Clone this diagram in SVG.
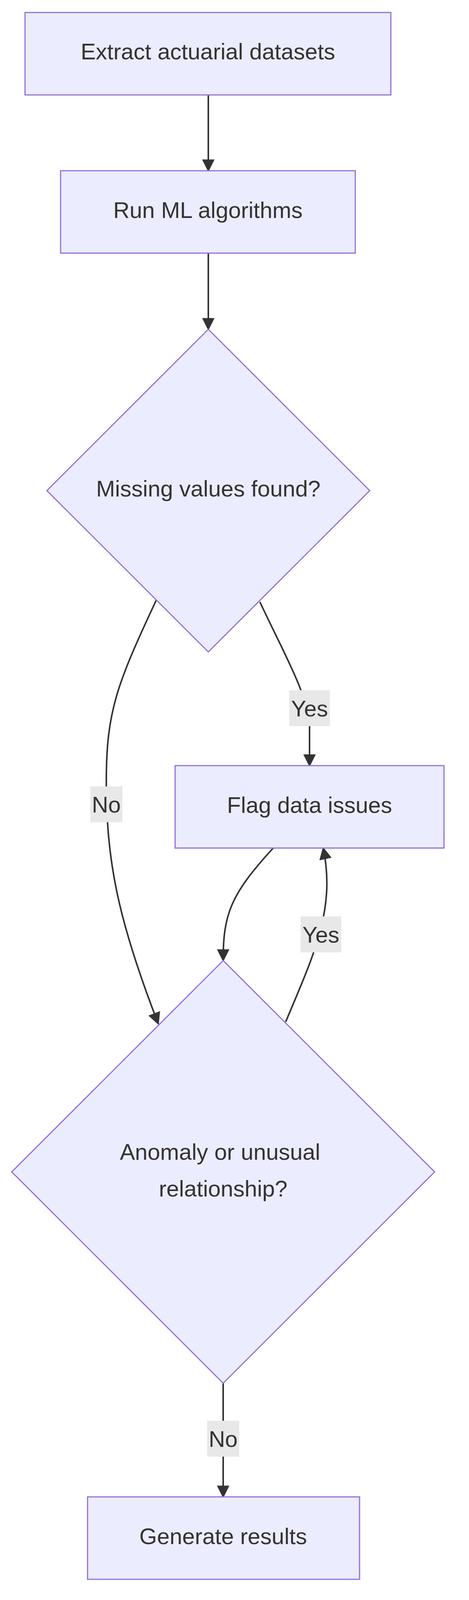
<svg xmlns="http://www.w3.org/2000/svg" width="1200" height="4180" viewBox="0 0 1200 4180">
<style>
.n{fill:#ECECFF;stroke:#9370DB;stroke-width:3}
.t{font-family:"Liberation Sans",Arial,sans-serif;font-size:58px;fill:#333;text-anchor:middle;dominant-baseline:central}
.e{fill:none;stroke:#333;stroke-width:4}
.lb{fill:#e8e8e8}
</style>
<defs><marker id="a" viewBox="0 0 10 10" refX="9" refY="5" markerWidth="8" markerHeight="8" markerUnits="userSpaceOnUse" orient="auto"><path d="M0,0L10,5L0,10z" fill="#333"/></marker>
<marker id="ah" viewBox="0 0 10 10" refX="9" refY="5" markerWidth="32" markerHeight="32" markerUnits="userSpaceOnUse" orient="auto"><path d="M0,0L10,5L0,10z" fill="#333"/></marker></defs>
<rect width="1200" height="4180" fill="#fff"/>
<g id="edges">
<path class="e" d="M533,243V437" marker-end="url(#ah)"/>
<path class="e" d="M533,648V843" marker-end="url(#ah)"/>
<path class="e" d="M665,1541C720,1660 790,1780 792,1860L792,1960" marker-end="url(#ah)"/>
<path class="e" d="M400,1536C300,1750 272,1820 272,2000C272,2200 300,2350 405,2621" marker-end="url(#ah)"/>
<path class="e" d="M699,2171C590,2290 571,2340 571,2459" marker-end="url(#ah)"/>
<path class="e" d="M731,2616C800,2450 860,2330 827,2171" marker-end="url(#ah)"/>
<path class="e" d="M571,3541V3832" marker-end="url(#ah)"/>
<rect class="lb" x="740" y="1767" width="104" height="92"/><text class="t" x="792" y="1813">Yes</text>
<rect class="lb" x="231" y="2013" width="82" height="92"/><text class="t" x="272" y="2059">No</text>
<rect class="lb" x="769" y="2346" width="104" height="92"/><text class="t" x="821" y="2392">Yes</text>
<rect class="lb" x="530" y="3637" width="82" height="92"/><text class="t" x="571" y="3683">No</text>
</g>
<g id="extract"><rect class="n" x="64" y="32" width="936" height="211"/><text class="t" x="532" y="131">Extract actuarial datasets</text></g>
<g id="run"><rect class="n" x="155" y="437" width="754" height="211"/><text class="t" x="532" y="537">Run ML algorithms</text></g>
<g id="missing"><polygon class="n" points="533,843 946,1256 533,1669 120,1256"/><text class="t" x="533" y="1250">Missing values found?</text></g>
<g id="flag"><rect class="n" x="448" y="1960" width="688" height="211"/><text class="t" x="792" y="2060">Flag data issues</text></g>
<g id="anomaly"><polygon class="n" points="571,2459 1112,3000 571,3541 30,3000"/><text class="t" x="563" y="2948">Anomaly or unusual</text><text class="t" x="571" y="3042">relationship?</text></g>
<g id="generate"><rect class="n" x="224" y="3832" width="696" height="211"/><text class="t" x="571" y="3932">Generate results</text></g>
</svg>
